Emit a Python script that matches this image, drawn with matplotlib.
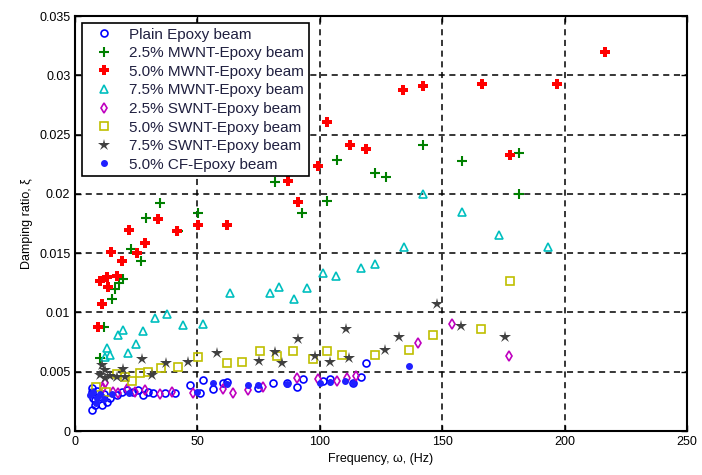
import numpy as np
import matplotlib.pyplot as plt

plt.rcParams['font.family'] = ['Liberation Sans', 'DejaVu Sans']

# Plain epoxy beam
plain_x = [6.9, 7.4, 8.2, 6.9, 11.0, 13.1, 14.3, 17.2, 19.2, 21.2, 23.7, 25.7,
           27.8, 29.8, 31.9, 36.8, 40.8, 47.0, 51.1, 52.3, 56.4, 60.5, 62.1,
           74.8, 80.9, 86.6, 90.7, 93.1, 101.3, 104.2, 113.6, 116.8, 118.9,
           7.0, 9.0, 12.0, 8.0, 10.5]
plain_y = [0.00329, 0.00278, 0.00219, 0.00177, 0.00219, 0.00245, 0.00278, 0.00304,
           0.00329, 0.00346, 0.00329, 0.00346, 0.00304, 0.00329, 0.0032, 0.0032,
           0.0032, 0.00388, 0.0032, 0.0043, 0.00354, 0.00405, 0.00413, 0.00363,
           0.00405, 0.00405, 0.00371, 0.00439, 0.00422, 0.00439, 0.00405, 0.00455,
           0.00573, 0.0036, 0.0034, 0.0031, 0.0026, 0.0029]

# 2.5% MWNT
mw25_x = [34.7, 29.0, 22.9, 27.0, 19.6, 18.0, 16.3, 15.1, 42.1, 50.2, 11.8, 10.2,
          81.7, 107.0, 122.5, 127.0, 102.9, 92.7, 142.2, 158.1, 181.4, 181.4]
mw25_y = [0.01923, 0.01796, 0.01535, 0.01434, 0.01282, 0.01248, 0.01198, 0.01113,
          0.01687, 0.01839, 0.00877, 0.00616, 0.0210, 0.02286, 0.02176, 0.02142,
          0.0194, 0.01839, 0.02412, 0.02277, 0.02345, 0.01999]

# 5.0% MWNT
mw50_x = [22.1, 33.9, 28.6, 14.7, 19.2, 25.3, 10.2, 13.1, 17.2, 13.5, 11.0, 41.7,
          50.2, 87.0, 99.3, 91.1, 62.1, 134.0, 142.2, 166.3, 196.9, 216.5, 118.9,
          177.7, 112.3, 102.9, 9.5]
mw50_y = [0.01695, 0.01788, 0.01586, 0.0151, 0.01434, 0.01501, 0.01265, 0.01299,
          0.01307, 0.01214, 0.01071, 0.01687, 0.01737, 0.02108, 0.02235, 0.01931,
          0.01737, 0.02876, 0.0291, 0.02927, 0.02927, 0.03196, 0.02378, 0.02328,
          0.02412, 0.02606, 0.00877]

# 7.5% MWNT
mw75_x = [63.3, 32.7, 37.6, 44.1, 52.3, 19.6, 17.6, 27.8, 24.9, 21.7, 13.1, 14.3,
          12.3, 79.7, 83.3, 89.5, 94.8, 101.3, 106.6, 116.8, 122.5, 142.2, 158.1,
          173.2, 193.2, 134.4]
mw75_y = [0.01164, 0.00953, 0.00987, 0.00894, 0.00902, 0.00852, 0.0081, 0.00843,
          0.00734, 0.00658, 0.0070, 0.00641, 0.00624, 0.01164, 0.01214, 0.01113,
          0.01206, 0.01333, 0.01307, 0.01375, 0.01408, 0.01999, 0.01847, 0.01653,
          0.01552, 0.01552]

# 2.5% SWNT
sw25_x = [12.3, 11.4, 15.5, 17.6, 21.2, 24.5, 28.6, 34.7, 39.6, 48.2, 60.5, 64.5,
          70.7, 76.8, 90.7, 99.3, 107.0, 111.1, 114.8, 140.1, 154.0, 177.3]
sw25_y = [0.00405, 0.00363, 0.00329, 0.0032, 0.00354, 0.00329, 0.00346, 0.00312,
          0.00329, 0.0032, 0.00354, 0.0032, 0.00346, 0.00371, 0.00447, 0.00439,
          0.00422, 0.00447, 0.00464, 0.00742, 0.00902, 0.00633]

# 5.0% SWNT
sw50_x = [8.6, 12.7, 17.2, 20.4, 23.3, 26.6, 29.8, 35.1, 42.1, 50.2, 62.1, 68.2,
          75.6, 82.5, 89.1, 97.2, 102.9, 109.1, 122.5, 136.4, 146.2, 165.8, 177.7]
sw50_y = [0.00371, 0.00329, 0.00481, 0.00455, 0.00422, 0.00489, 0.00498, 0.00531,
          0.0054, 0.00624, 0.00573, 0.00582, 0.00675, 0.00633, 0.00675, 0.00607,
          0.00675, 0.00641, 0.00641, 0.00683, 0.0081, 0.0086, 0.01265]

# 7.5% SWNT
sw75_x = [11.0, 10.2, 12.3, 14.3, 17.2, 19.6, 12.3, 20.4, 27.4, 31.5, 37.2, 46.2,
          58.0, 75.2, 81.7, 84.6, 91.1, 98.0, 104.2, 110.7, 111.9, 126.6, 132.4,
          147.9, 157.7, 175.7]
sw75_y = [0.00557, 0.00472, 0.00447, 0.00464, 0.00455, 0.00523, 0.00514, 0.00455,
          0.00607, 0.00472, 0.00573, 0.00582, 0.00658, 0.0059, 0.00666, 0.00573,
          0.00776, 0.00633, 0.00582, 0.0086, 0.00616, 0.00683, 0.00793, 0.01071,
          0.00886, 0.00793]

# 5.0% CF
cf_x = [6.0, 7.5, 9.0, 10.0, 8.5, 12.0, 15.0, 22.0, 56.4, 62.0, 70.7, 74.8,
        86.6, 100.0, 110.3, 113.6, 104.2, 136.4, 50.0]
cf_y = [0.0030, 0.0033, 0.0028, 0.0031, 0.0024, 0.0027, 0.0031, 0.0032, 0.00405,
        0.00395, 0.00388, 0.00388, 0.00395, 0.00405, 0.00422, 0.00405, 0.0041,
        0.00548, 0.0033]

fig = plt.figure(figsize=(7.02, 4.75), dpi=100)
ax = fig.add_axes([0.107, 0.0926, 0.8716, 0.8734])

ax.plot(plain_x, plain_y, 'o', mfc='none', mec='b', ms=5, mew=1.2, label='Plain Epoxy beam')
ax.plot(mw25_x, mw25_y, '+', color='#008000', ms=7, mew=1.5, label='2.5% MWNT-Epoxy beam')
ax.plot(mw50_x, mw50_y, 'P', color='r', ms=6.5, mew=0, label='5.0% MWNT-Epoxy beam')
ax.plot(mw75_x, mw75_y, '^', mfc='none', mec='#00bfbf', ms=6, mew=1.2, label='7.5% MWNT-Epoxy beam')
ax.plot(sw25_x, sw25_y, 'd', mfc='none', mec='#bf00bf', ms=5.5, mew=1.2, label='2.5% SWNT-Epoxy beam')
ax.plot(sw50_x, sw50_y, 's', mfc='none', mec='#bfbf00', ms=6, mew=1.2, label='5.0% SWNT-Epoxy beam')
ax.plot(sw75_x, sw75_y, '*', color='#404040', ms=9, mew=0, label='7.5% SWNT-Epoxy beam')
ax.plot(cf_x, cf_y, '.', color='#2020ff', ms=8, label='5.0% CF-Epoxy beam')

ax.set_xlim(0, 250)
ax.set_ylim(0, 0.035)
ax.set_xticks([0, 50, 100, 150, 200, 250])
ax.set_yticks([0, 0.005, 0.01, 0.015, 0.02, 0.025, 0.03, 0.035])
ax.set_yticklabels(['0', '0.005', '0.01', '0.015', '0.02', '0.025', '0.03', '0.035'])
ax.grid(True, color='k', linestyle=(0, (4, 3)), linewidth=1.1)
ax.set_axisbelow(True)
ax.tick_params(direction='in', labelsize=9, length=4, width=1, top=True, right=True)
for s in ax.spines.values():
    s.set_linewidth(1.5)

ax.set_xlabel('Frequency, ω, (Hz)', fontsize=9)
ax.set_ylabel('Damping ratio, ξ', fontsize=9)

leg = ax.legend(loc='upper left', fontsize=11, frameon=True, fancybox=False,
                edgecolor='k', framealpha=1, borderaxespad=0.45, handletextpad=0.5,
                labelspacing=0.3, borderpad=0.3, handlelength=2.3)
leg.get_frame().set_linewidth(1.2)
for t in leg.get_texts():
    t.set_color('#202040')

fig.savefig('out.png', dpi=100)
